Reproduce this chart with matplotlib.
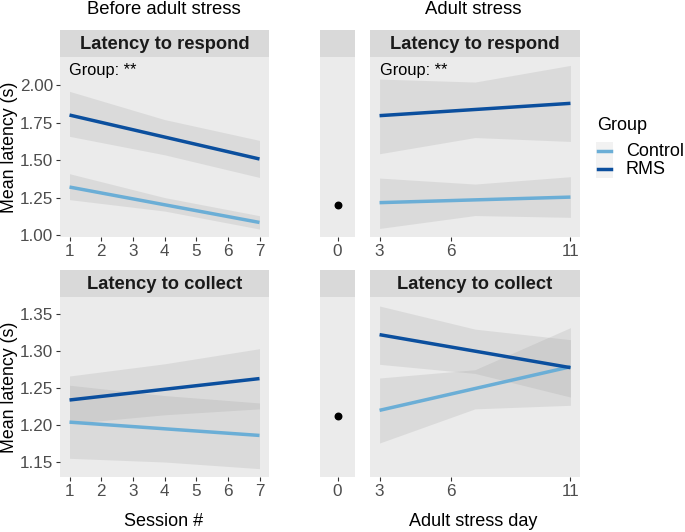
import numpy as np
import matplotlib
matplotlib.use("Agg")
import matplotlib.pyplot as plt
from matplotlib.patches import Rectangle
from matplotlib.lines import Line2D

plt.rcParams["font.family"] = ["Liberation Sans", "DejaVu Sans"]

W, H = 685, 532
PANEL = "#EBEBEB"
STRIP = "#D9D9D9"
TICK = "#4D4D4D"
CONTROL = "#6BAED6"
RMS = "#0B4F9E"
BAND = "#999999"

groups = ["Control", "RMS"]
colors = {"Control": CONTROL, "RMS": RMS}

# before adult stress (sessions)
session_ends = [1, 7]
session_band_x = [1, 4, 7]
# latency to respond
resp_before_fit = {"Control": [1.32, 1.084], "RMS": [1.80, 1.507]}
resp_before_lo = {"Control": [1.236, 1.16, 1.04], "RMS": [1.658, 1.535, 1.384]}
resp_before_hi = {"Control": [1.409, 1.25, 1.129], "RMS": [1.958, 1.77, 1.631]}
# latency to collect
coll_before_fit = {"Control": [1.204, 1.186], "RMS": [1.234, 1.263]}
coll_before_lo = {"Control": [1.155, 1.150, 1.141], "RMS": [1.202, 1.214, 1.222]}
coll_before_hi = {"Control": [1.254, 1.240, 1.230], "RMS": [1.2665, 1.283, 1.3035]}

# baseline (day 0)
baseline_day = [0]
resp_baseline = [1.198]
coll_baseline = [1.212]

# adult stress days
day_ends = [3, 11]
day_band_x = [3, 7, 11]
resp_adult_fit = {"Control": [1.216, 1.253], "RMS": [1.796, 1.878]}
resp_adult_lo = {"Control": [1.044, 1.13, 1.118], "RMS": [1.542, 1.65, 1.624]}
resp_adult_hi = {"Control": [1.38, 1.34, 1.389], "RMS": [2.04, 2.02, 2.131]}
coll_adult_fit = {"Control": [1.22, 1.279], "RMS": [1.3225, 1.2778]}
coll_adult_lo = {"Control": [1.1757, 1.222, 1.2268], "RMS": [1.2823, 1.27, 1.238]}
coll_adult_hi = {"Control": [1.2638, 1.275, 1.332], "RMS": [1.3613, 1.33, 1.3157]}

resp_ticks = [1.00, 1.25, 1.50, 1.75, 2.00]
coll_ticks = [1.15, 1.20, 1.25, 1.30, 1.35]
session_ticks = [1, 2, 3, 4, 5, 6, 7]
day_ticks = [3, 6, 11]

resp_ylim = (0.987, 2.187)
coll_ylim = (1.1297, 1.3735)

fig = plt.figure(figsize=(W / 100, H / 100), dpi=100, facecolor="white")


def rect(x0, y0, x1, y1):
    return [x0 / W, 1 - y1 / H, (x1 - x0) / W, (y1 - y0) / H]


def panel(box, xlim, ylim, xticks, yticks=None):
    ax = fig.add_axes(rect(*box), facecolor=PANEL)
    ax.set_xlim(*xlim)
    ax.set_ylim(*ylim)
    for s in ax.spines.values():
        s.set_visible(False)
    ax.set_xticks(xticks)
    ax.set_xticklabels([str(t) for t in xticks])
    if yticks is None:
        ax.set_yticks([])
    else:
        ax.set_yticks(yticks)
        ax.set_yticklabels([f"{t:.2f}" for t in yticks])
    ax.tick_params(axis="both", colors="#333333", labelcolor=TICK, labelsize=12.3,
                   length=3, width=0.8, pad=2)
    return ax


def strip(box, label=None):
    ax = fig.add_axes(rect(*box), facecolor=STRIP)
    ax.set_xticks([])
    ax.set_yticks([])
    for s in ax.spines.values():
        s.set_visible(False)
    if label:
        ax.text(0.5, 0.48, label, ha="center", va="center", fontsize=13.2,
                fontweight="bold", color="#1A1A1A", transform=ax.transAxes)
    return ax


def draw_fits(ax, xe, xb, fit, lo, hi):
    for g in groups:
        ax.fill_between(xb, lo[g], hi[g], color=BAND, alpha=0.2, lw=0, zorder=1)
    for g in groups:
        ax.plot(xe, fit[g], color=colors[g], lw=2.5, solid_capstyle="butt", zorder=3)


rows = [
    (57, 237, 30, "Latency to respond", resp_ylim, resp_ticks,
     (resp_before_fit, resp_before_lo, resp_before_hi), resp_baseline,
     (resp_adult_fit, resp_adult_lo, resp_adult_hi), True),
    (297, 477, 270, "Latency to collect", coll_ylim, coll_ticks,
     (coll_before_fit, coll_before_lo, coll_before_hi), coll_baseline,
     (coll_adult_fit, coll_adult_lo, coll_adult_hi), False),
]

for top, bot, stop, label, ylim, yt, before, base, adult, annotate in rows:
    ax1 = panel((60, top, 269, bot), (0.7, 7.3), ylim, session_ticks, yt)
    strip((60, stop, 269, top), label)
    draw_fits(ax1, session_ends, session_band_x, *before)
    fig.text(10 / W, 1 - (top + bot) / 2 / H, "Mean latency (s)", rotation=90,
             ha="center", va="center", fontsize=12.8)

    ax2 = panel((320, top, 355, bot), (-0.55, 0.55), ylim, [0])
    strip((320, stop, 355, top))
    ax2.scatter(baseline_day, base, s=22, color="black", zorder=3)

    ax3 = panel((370, top, 580, bot), (2.6, 11.4), ylim, day_ticks)
    strip((370, stop, 580, top), label)
    draw_fits(ax3, day_ends, day_band_x, *adult)

    if annotate:
        ax1.text(0.97, 2.095, "Group: **", fontsize=11.8, va="center", ha="left")
        ax3.text(3.04, 2.095, "Group: **", fontsize=11.8, va="center", ha="left")

fig.text(164 / W, 1 - 10 / H, "Before adult stress", ha="center", va="center", fontsize=13.3)
fig.text(473 / W, 1 - 10 / H, "Adult stress", ha="center", va="center", fontsize=13.3)
fig.text(164 / W, 1 - 521 / H, "Session #", ha="center", va="center", fontsize=13)
fig.text(473 / W, 1 - 521 / H, "Adult stress day", ha="center", va="center", fontsize=13)

# legend drawn in pixel space
lg = fig.add_axes([0, 0, 1, 1], facecolor="none")
lg.set_xlim(0, W)
lg.set_ylim(H, 0)
lg.axis("off")
lg.text(597, 125, "Group", fontsize=13, va="center", ha="left")
for i, g in enumerate(groups):
    yc = 151 + i * 18
    lg.add_patch(Rectangle((596, yc - 9), 17, 18, facecolor="#F2F2F2", edgecolor="none"))
    lg.add_line(Line2D([598, 611], [yc, yc], color=colors[g], lw=2.5))
    lg.text(626, yc, g, fontsize=13, va="center", ha="left")

fig.savefig("out.png", dpi=100, facecolor="white")
